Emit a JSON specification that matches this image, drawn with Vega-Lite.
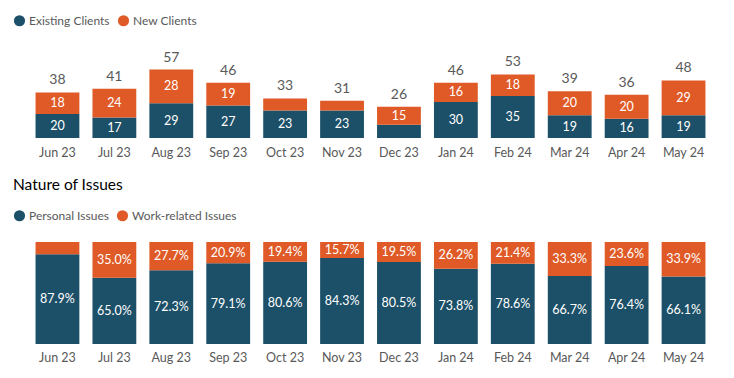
{
  "$schema": "https://vega.github.io/schema/vega-lite/v6.json",
  "padding": {"left": 13, "top": 14, "right": 0, "bottom": 0},
  "background": "white",
  "config": {"font": "Lato", "view": {"stroke": null}},
  "datasets": {
    "clients": [
      {"month": "Jun 23", "series": "Existing Clients", "value": 20},
      {"month": "Jun 23", "series": "New Clients", "value": 18},
      {"month": "Jul 23", "series": "Existing Clients", "value": 17},
      {"month": "Jul 23", "series": "New Clients", "value": 24},
      {"month": "Aug 23", "series": "Existing Clients", "value": 29},
      {"month": "Aug 23", "series": "New Clients", "value": 28},
      {"month": "Sep 23", "series": "Existing Clients", "value": 27},
      {"month": "Sep 23", "series": "New Clients", "value": 19},
      {"month": "Oct 23", "series": "Existing Clients", "value": 23},
      {"month": "Oct 23", "series": "New Clients", "value": 10},
      {"month": "Nov 23", "series": "Existing Clients", "value": 23},
      {"month": "Nov 23", "series": "New Clients", "value": 8},
      {"month": "Dec 23", "series": "Existing Clients", "value": 11},
      {"month": "Dec 23", "series": "New Clients", "value": 15},
      {"month": "Jan 24", "series": "Existing Clients", "value": 30},
      {"month": "Jan 24", "series": "New Clients", "value": 16},
      {"month": "Feb 24", "series": "Existing Clients", "value": 35},
      {"month": "Feb 24", "series": "New Clients", "value": 18},
      {"month": "Mar 24", "series": "Existing Clients", "value": 19},
      {"month": "Mar 24", "series": "New Clients", "value": 20},
      {"month": "Apr 24", "series": "Existing Clients", "value": 16},
      {"month": "Apr 24", "series": "New Clients", "value": 20},
      {"month": "May 24", "series": "Existing Clients", "value": 19},
      {"month": "May 24", "series": "New Clients", "value": 29}
    ],
    "issues": [
      {"month": "Jun 23", "series": "Personal Issues", "value": 0.879},
      {"month": "Jun 23", "series": "Work-related Issues", "value": 0.121},
      {"month": "Jul 23", "series": "Personal Issues", "value": 0.650},
      {"month": "Jul 23", "series": "Work-related Issues", "value": 0.350},
      {"month": "Aug 23", "series": "Personal Issues", "value": 0.723},
      {"month": "Aug 23", "series": "Work-related Issues", "value": 0.277},
      {"month": "Sep 23", "series": "Personal Issues", "value": 0.791},
      {"month": "Sep 23", "series": "Work-related Issues", "value": 0.209},
      {"month": "Oct 23", "series": "Personal Issues", "value": 0.806},
      {"month": "Oct 23", "series": "Work-related Issues", "value": 0.194},
      {"month": "Nov 23", "series": "Personal Issues", "value": 0.843},
      {"month": "Nov 23", "series": "Work-related Issues", "value": 0.157},
      {"month": "Dec 23", "series": "Personal Issues", "value": 0.805},
      {"month": "Dec 23", "series": "Work-related Issues", "value": 0.195},
      {"month": "Jan 24", "series": "Personal Issues", "value": 0.738},
      {"month": "Jan 24", "series": "Work-related Issues", "value": 0.262},
      {"month": "Feb 24", "series": "Personal Issues", "value": 0.786},
      {"month": "Feb 24", "series": "Work-related Issues", "value": 0.214},
      {"month": "Mar 24", "series": "Personal Issues", "value": 0.667},
      {"month": "Mar 24", "series": "Work-related Issues", "value": 0.333},
      {"month": "Apr 24", "series": "Personal Issues", "value": 0.764},
      {"month": "Apr 24", "series": "Work-related Issues", "value": 0.236},
      {"month": "May 24", "series": "Personal Issues", "value": 0.661},
      {"month": "May 24", "series": "Work-related Issues", "value": 0.339}
    ]
  },
  "bounds": "flush",
  "spacing": 104,
  "resolve": {"scale": {"color": "independent"}, "legend": {"color": "independent"}},
  "vconcat": [
    {
      "width": 683,
      "height": 84,
      "data": {"name": "clients"},
      "transform": [
        {"stack": "value", "groupby": ["month"], "sort": [{"field": "series", "order": "ascending"}], "as": ["v0", "v1"]}
      ],
      "encoding": {
        "x": {"field": "month", "type": "ordinal", "sort": null,
          "scale": {"paddingInner": 0.23, "paddingOuter": 0.115},
          "axis": {"title": null, "domain": false, "ticks": false, "labelAngle": 0, "labelFontSize": 12.5, "labelColor": "#595959", "labelPadding": 8}}
      },
      "layer": [
        {
          "mark": {"type": "bar"},
          "encoding": {
            "y": {"field": "v0", "type": "quantitative", "scale": {"domain": [0, 70]}, "axis": null},
            "y2": {"field": "v1"},
            "color": {"field": "series", "type": "nominal",
              "scale": {"domain": ["Existing Clients", "New Clients"], "range": ["#1C5068", "#DF5A26"]},
              "legend": {"title": null, "orient": "none", "direction": "horizontal", "legendX": -16, "legendY": -40,
                "symbolType": "circle", "symbolSize": 125, "symbolOpacity": 1, "labelFontSize": 12, "labelColor": "#595959", "columnPadding": 7, "labelOffset": 3}}
          }
        },
        {
          "transform": [
            {"filter": "datum.value >= 12"},
            {"calculate": "(datum.v0 + datum.v1) / 2", "as": "mid"}
          ],
          "mark": {"type": "text", "color": "white", "fontSize": 12.5, "baseline": "middle"},
          "encoding": {
            "y": {"field": "mid", "type": "quantitative"},
            "text": {"field": "value", "type": "quantitative"}
          }
        },
        {
          "mark": {"type": "text", "color": "#595959", "fontSize": 14, "baseline": "bottom", "dy": -5},
          "encoding": {
            "y": {"aggregate": "sum", "field": "value", "type": "quantitative"},
            "text": {"aggregate": "sum", "field": "value", "type": "quantitative"}
          }
        }
      ]
    },
    {
      "width": 683,
      "height": 102,
      "data": {"name": "issues"},
      "title": {"text": "Nature of Issues", "anchor": "start", "dx": 0, "fontSize": 15.5, "fontWeight": "normal", "color": "#000000", "offset": 16},
      "transform": [
        {"stack": "value", "groupby": ["month"], "sort": [{"field": "series", "order": "ascending"}], "as": ["v0", "v1"]}
      ],
      "encoding": {
        "x": {"field": "month", "type": "ordinal", "sort": null,
          "scale": {"paddingInner": 0.23, "paddingOuter": 0.115},
          "axis": {"title": null, "domain": false, "ticks": false, "labelAngle": 0, "labelFontSize": 12.5, "labelColor": "#595959", "labelPadding": 7}}
      },
      "layer": [
        {
          "mark": {"type": "bar"},
          "encoding": {
            "y": {"field": "v0", "type": "quantitative", "scale": {"domain": [0, 1]}, "axis": null},
            "y2": {"field": "v1"},
            "color": {"field": "series", "type": "nominal",
              "scale": {"domain": ["Personal Issues", "Work-related Issues"], "range": ["#1C5068", "#DF5A26"]},
              "legend": {"title": null, "orient": "none", "direction": "horizontal", "legendX": -16, "legendY": -33,
                "symbolType": "circle", "symbolSize": 125, "symbolOpacity": 1, "labelFontSize": 12, "labelColor": "#595959", "columnPadding": 7, "labelOffset": 3}}
          }
        },
        {
          "transform": [
            {"filter": "datum.value >= 0.15"},
            {"calculate": "(datum.v0 + datum.v1) / 2", "as": "mid"}
          ],
          "mark": {"type": "text", "color": "white", "fontSize": 12.5, "baseline": "middle"},
          "encoding": {
            "y": {"field": "mid", "type": "quantitative"},
            "text": {"field": "value", "type": "quantitative", "format": ".1%"}
          }
        }
      ]
    }
  ]
}
